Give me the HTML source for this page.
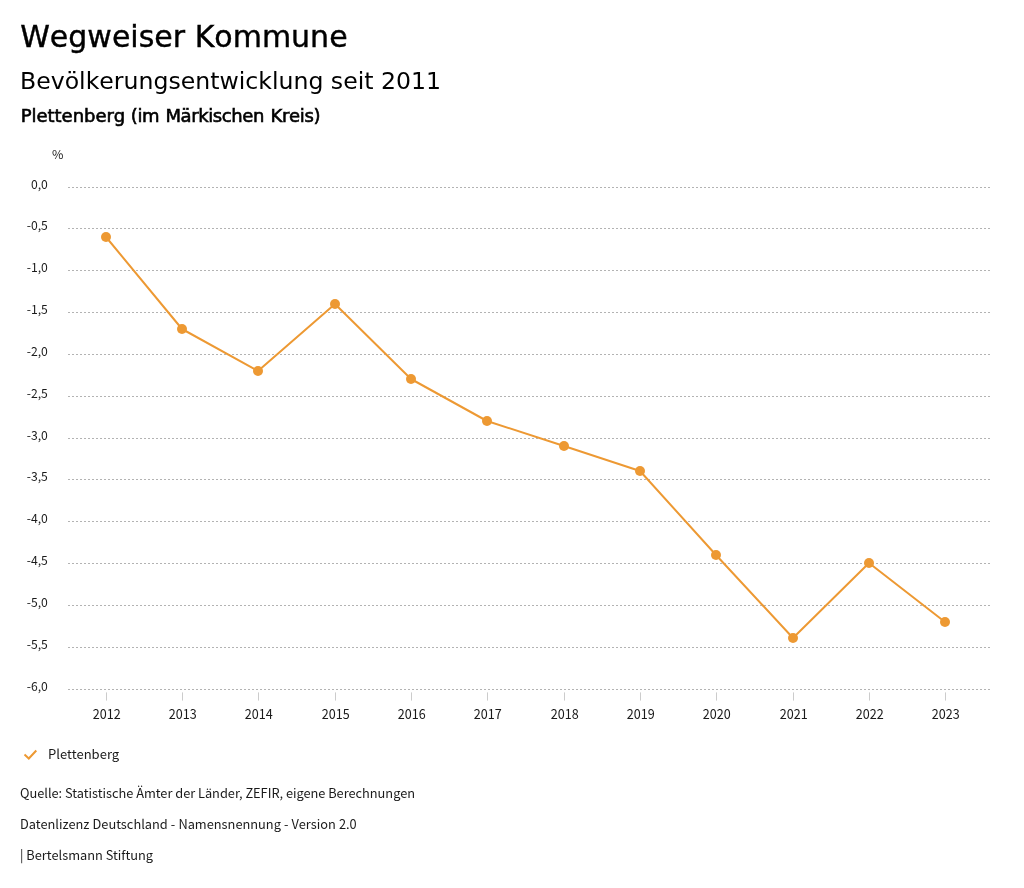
<!DOCTYPE html>
<html lang="de"><head><meta charset="utf-8"><title>Wegweiser Kommune</title>
<style>html,body{margin:0;padding:0;background:#fff}svg{display:block}.t{font-family:"DejaVu Sans","Liberation Sans",sans-serif;fill:#000;font-kerning:none}.a{font-family:"Noto Sans CJK SC","Noto Sans CJK JP","Liberation Sans",sans-serif;fill:#1a1a1a}</style></head><body>
<svg width="1024" height="888" viewBox="0 0 1024 888">
<rect width="1024" height="888" fill="#fff"/>
<text class="t" x="20.2" y="47.3" font-size="30" stroke="#000" stroke-width="0.4">Wegweiser Kommune</text>
<text class="t" x="20" y="89" font-size="23.6">Bevölkerungsentwicklung seit 2011</text>
<text class="t" y="122" font-size="18" stroke="#000" stroke-width="0.6"><tspan x="20.75" letter-spacing="-0.04">Plettenberg </tspan><tspan x="130.8" letter-spacing="-0.4">(im </tspan><tspan x="165.4" letter-spacing="-0.4">Märkischen </tspan><tspan x="270.5" letter-spacing="-0.32">Kreis)</tspan></text>
<text class="a" x="52" y="159" font-size="12.4">%</text>
<line x1="68" x2="990" y1="187.50" y2="187.50" stroke="#b3b3b3" stroke-width="1" stroke-dasharray="2 2"/>
<text class="a" x="47.9" y="189.30" text-anchor="end" font-size="12.2">0,0</text>
<line x1="68" x2="990" y1="228.50" y2="228.50" stroke="#b3b3b3" stroke-width="1" stroke-dasharray="2 2"/>
<text class="a" x="47.9" y="230.30" text-anchor="end" font-size="12.2">-0,5</text>
<line x1="68" x2="990" y1="270.50" y2="270.50" stroke="#b3b3b3" stroke-width="1" stroke-dasharray="2 2"/>
<text class="a" x="47.9" y="272.30" text-anchor="end" font-size="12.2">-1,0</text>
<line x1="68" x2="990" y1="312.50" y2="312.50" stroke="#b3b3b3" stroke-width="1" stroke-dasharray="2 2"/>
<text class="a" x="47.9" y="314.30" text-anchor="end" font-size="12.2">-1,5</text>
<line x1="68" x2="990" y1="354.50" y2="354.50" stroke="#b3b3b3" stroke-width="1" stroke-dasharray="2 2"/>
<text class="a" x="47.9" y="356.30" text-anchor="end" font-size="12.2">-2,0</text>
<line x1="68" x2="990" y1="396.50" y2="396.50" stroke="#b3b3b3" stroke-width="1" stroke-dasharray="2 2"/>
<text class="a" x="47.9" y="398.30" text-anchor="end" font-size="12.2">-2,5</text>
<line x1="68" x2="990" y1="438.50" y2="438.50" stroke="#b3b3b3" stroke-width="1" stroke-dasharray="2 2"/>
<text class="a" x="47.9" y="440.30" text-anchor="end" font-size="12.2">-3,0</text>
<line x1="68" x2="990" y1="479.50" y2="479.50" stroke="#b3b3b3" stroke-width="1" stroke-dasharray="2 2"/>
<text class="a" x="47.9" y="481.30" text-anchor="end" font-size="12.2">-3,5</text>
<line x1="68" x2="990" y1="521.50" y2="521.50" stroke="#b3b3b3" stroke-width="1" stroke-dasharray="2 2"/>
<text class="a" x="47.9" y="523.30" text-anchor="end" font-size="12.2">-4,0</text>
<line x1="68" x2="990" y1="563.50" y2="563.50" stroke="#b3b3b3" stroke-width="1" stroke-dasharray="2 2"/>
<text class="a" x="47.9" y="565.30" text-anchor="end" font-size="12.2">-4,5</text>
<line x1="68" x2="990" y1="605.50" y2="605.50" stroke="#b3b3b3" stroke-width="1" stroke-dasharray="2 2"/>
<text class="a" x="47.9" y="607.30" text-anchor="end" font-size="12.2">-5,0</text>
<line x1="68" x2="990" y1="647.50" y2="647.50" stroke="#b3b3b3" stroke-width="1" stroke-dasharray="2 2"/>
<text class="a" x="47.9" y="649.30" text-anchor="end" font-size="12.2">-5,5</text>
<line x1="68" x2="990" y1="689.50" y2="689.50" stroke="#b3b3b3" stroke-width="1" stroke-dasharray="2 2"/>
<text class="a" x="47.9" y="691.30" text-anchor="end" font-size="12.2">-6,0</text>
<line x1="106.50" x2="106.50" y1="692.4" y2="700.6" stroke="#cccccc" stroke-width="1"/>
<text class="a" transform="translate(106.80 718.5) scale(1 1.09)" text-anchor="middle" font-size="12.6">2012</text>
<line x1="182.50" x2="182.50" y1="692.4" y2="700.6" stroke="#cccccc" stroke-width="1"/>
<text class="a" transform="translate(182.80 718.5) scale(1 1.09)" text-anchor="middle" font-size="12.6">2013</text>
<line x1="258.50" x2="258.50" y1="692.4" y2="700.6" stroke="#cccccc" stroke-width="1"/>
<text class="a" transform="translate(258.80 718.5) scale(1 1.09)" text-anchor="middle" font-size="12.6">2014</text>
<line x1="335.50" x2="335.50" y1="692.4" y2="700.6" stroke="#cccccc" stroke-width="1"/>
<text class="a" transform="translate(335.80 718.5) scale(1 1.09)" text-anchor="middle" font-size="12.6">2015</text>
<line x1="411.50" x2="411.50" y1="692.4" y2="700.6" stroke="#cccccc" stroke-width="1"/>
<text class="a" transform="translate(411.80 718.5) scale(1 1.09)" text-anchor="middle" font-size="12.6">2016</text>
<line x1="487.50" x2="487.50" y1="692.4" y2="700.6" stroke="#cccccc" stroke-width="1"/>
<text class="a" transform="translate(487.80 718.5) scale(1 1.09)" text-anchor="middle" font-size="12.6">2017</text>
<line x1="564.50" x2="564.50" y1="692.4" y2="700.6" stroke="#cccccc" stroke-width="1"/>
<text class="a" transform="translate(564.80 718.5) scale(1 1.09)" text-anchor="middle" font-size="12.6">2018</text>
<line x1="640.50" x2="640.50" y1="692.4" y2="700.6" stroke="#cccccc" stroke-width="1"/>
<text class="a" transform="translate(640.80 718.5) scale(1 1.09)" text-anchor="middle" font-size="12.6">2019</text>
<line x1="716.50" x2="716.50" y1="692.4" y2="700.6" stroke="#cccccc" stroke-width="1"/>
<text class="a" transform="translate(716.80 718.5) scale(1 1.09)" text-anchor="middle" font-size="12.6">2020</text>
<line x1="793.50" x2="793.50" y1="692.4" y2="700.6" stroke="#cccccc" stroke-width="1"/>
<text class="a" transform="translate(793.80 718.5) scale(1 1.09)" text-anchor="middle" font-size="12.6">2021</text>
<line x1="869.50" x2="869.50" y1="692.4" y2="700.6" stroke="#cccccc" stroke-width="1"/>
<text class="a" transform="translate(869.80 718.5) scale(1 1.09)" text-anchor="middle" font-size="12.6">2022</text>
<line x1="945.50" x2="945.50" y1="692.4" y2="700.6" stroke="#cccccc" stroke-width="1"/>
<text class="a" transform="translate(945.80 718.5) scale(1 1.09)" text-anchor="middle" font-size="12.6">2023</text>
<polyline points="106.00,237.00 182.00,329.00 258.00,371.00 335.00,304.00 411.00,379.00 487.00,421.00 564.00,446.00 640.00,471.00 716.00,555.00 793.00,638.00 869.00,563.00 945.00,622.00" fill="none" stroke="#ed9933" stroke-width="2" stroke-linejoin="round"/>
<circle cx="106.00" cy="237.00" r="5" fill="#ed9933"/>
<circle cx="182.00" cy="329.00" r="5" fill="#ed9933"/>
<circle cx="258.00" cy="371.00" r="5" fill="#ed9933"/>
<circle cx="335.00" cy="304.00" r="5" fill="#ed9933"/>
<circle cx="411.00" cy="379.00" r="5" fill="#ed9933"/>
<circle cx="487.00" cy="421.00" r="5" fill="#ed9933"/>
<circle cx="564.00" cy="446.00" r="5" fill="#ed9933"/>
<circle cx="640.00" cy="471.00" r="5" fill="#ed9933"/>
<circle cx="716.00" cy="555.00" r="5" fill="#ed9933"/>
<circle cx="793.00" cy="638.00" r="5" fill="#ed9933"/>
<circle cx="869.00" cy="563.00" r="5" fill="#ed9933"/>
<circle cx="945.00" cy="622.00" r="5" fill="#ed9933"/>
<path d="M24.5 754.6 L28.8 758.5 L36.3 750.5" fill="none" stroke="#ed9933" stroke-width="2"/>
<text class="a" x="48" y="759.4" font-size="13.05">Plettenberg</text>
<text class="a" x="20" y="798.3" font-size="12.8" letter-spacing="-0.02">Quelle: Statistische Ämter der Länder, ZEFIR, eigene Berechnungen</text>
<text class="a" x="20" y="829.3" font-size="12.8" word-spacing="0.25">Datenlizenz Deutschland - Namensnennung - Version 2.0</text>
<text class="a" x="20" y="860.3" font-size="12.8">| Bertelsmann Stiftung</text>
</svg></body></html>
